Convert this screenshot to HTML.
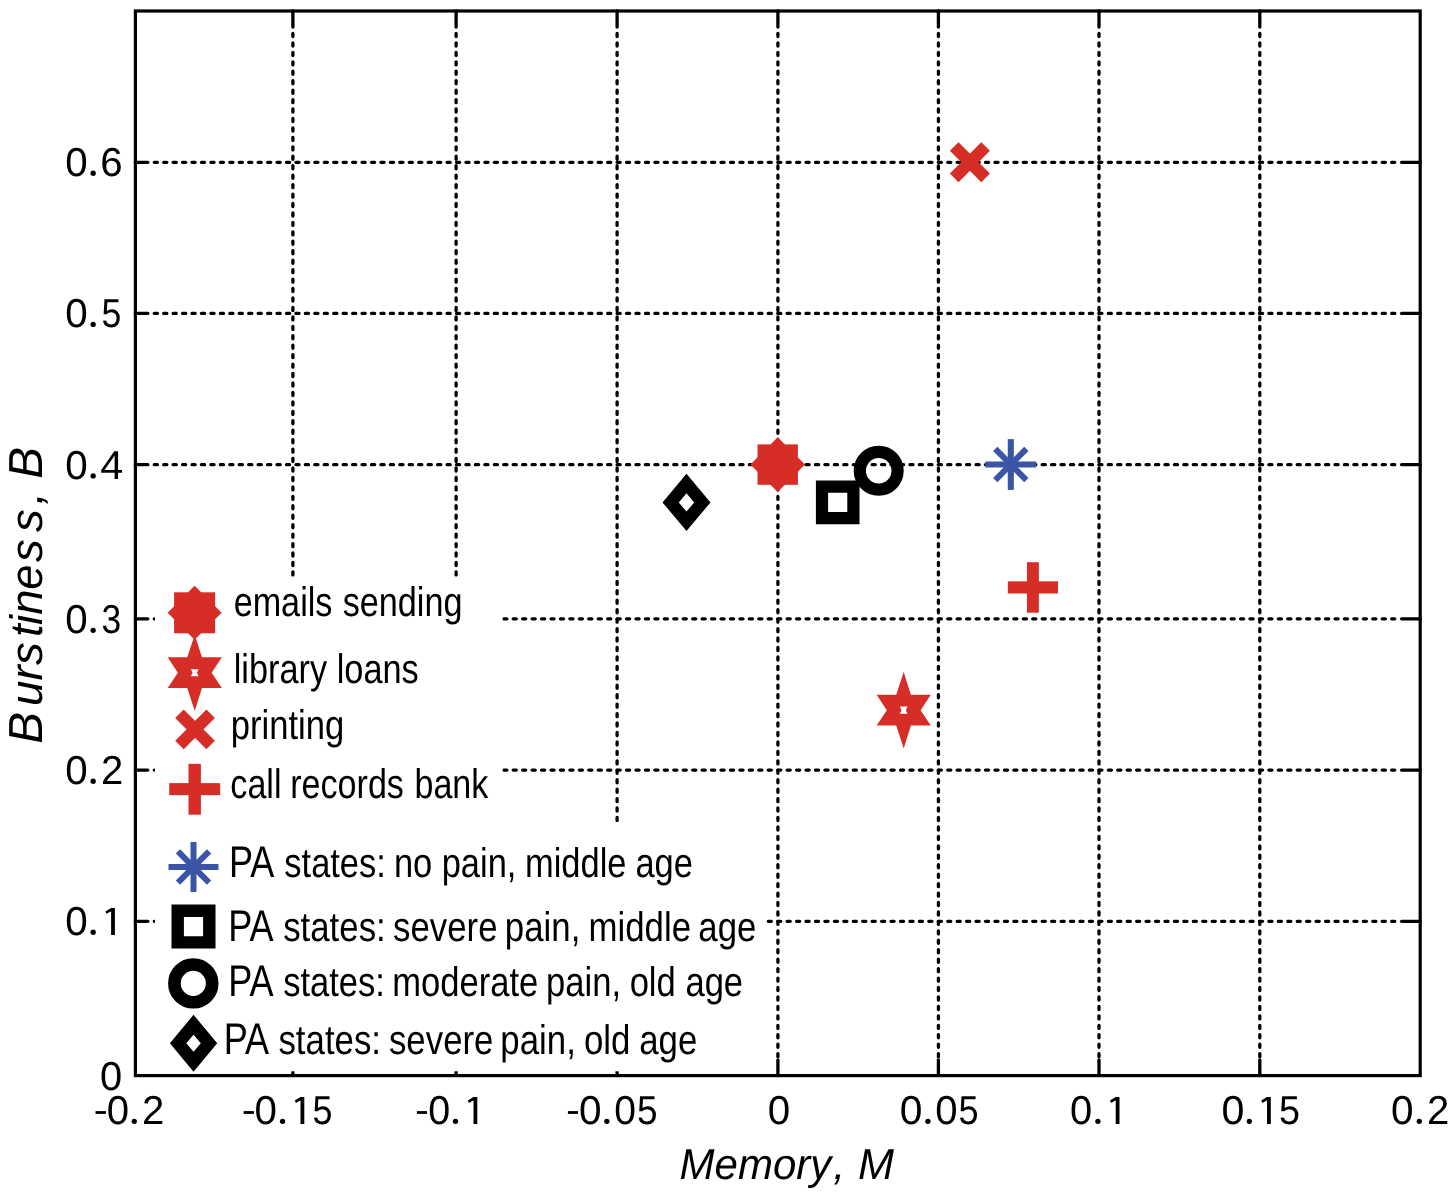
<!DOCTYPE html>
<html><head><meta charset="utf-8"><title>Burstiness vs Memory</title>
<style>html,body{margin:0;padding:0;background:#fff;overflow:hidden}svg{display:block;will-change:transform}text{font-family:"Liberation Sans",sans-serif;text-rendering:geometricPrecision}</style></head><body>
<svg width="1456" height="1197" viewBox="0 0 1456 1197">
<rect x="0" y="0" width="1456" height="1197" fill="#fff"/>
<g stroke="#000" stroke-width="3.3" stroke-linecap="round" fill="none" stroke-dasharray="3.1 6.346">
<line x1="292.9" y1="33.45" x2="292.9" y2="1057.2"/>
<line x1="456.1" y1="33.45" x2="456.1" y2="1057.2"/>
<line x1="617.1" y1="33.45" x2="617.1" y2="1057.2"/>
<line x1="777.9" y1="33.45" x2="777.9" y2="1057.2"/>
<line x1="938.4" y1="33.45" x2="938.4" y2="1057.2"/>
<line x1="1099.0" y1="33.45" x2="1099.0" y2="1057.2"/>
<line x1="1259.8" y1="33.45" x2="1259.8" y2="1057.2"/>
<line x1="154.25" y1="162.3" x2="1397.5" y2="162.3"/>
<line x1="154.25" y1="313.4" x2="1397.5" y2="313.4"/>
<line x1="154.25" y1="464.65" x2="1397.5" y2="464.65"/>
<line x1="154.25" y1="618.8" x2="1397.5" y2="618.8"/>
<line x1="154.25" y1="770.1" x2="1397.5" y2="770.1"/>
<line x1="154.25" y1="921.3" x2="1397.5" y2="921.3"/>
</g>
<g stroke="#000" stroke-width="3.3" stroke-linecap="round">
<line x1="292.9" y1="11.0" x2="292.9" y2="27.0"/>
<line x1="292.9" y1="1060.0" x2="292.9" y2="1075.6"/>
<line x1="456.1" y1="11.0" x2="456.1" y2="27.0"/>
<line x1="456.1" y1="1060.0" x2="456.1" y2="1075.6"/>
<line x1="617.1" y1="11.0" x2="617.1" y2="27.0"/>
<line x1="617.1" y1="1060.0" x2="617.1" y2="1075.6"/>
<line x1="777.9" y1="11.0" x2="777.9" y2="27.0"/>
<line x1="777.9" y1="1060.0" x2="777.9" y2="1075.6"/>
<line x1="938.4" y1="11.0" x2="938.4" y2="27.0"/>
<line x1="938.4" y1="1060.0" x2="938.4" y2="1075.6"/>
<line x1="1099.0" y1="11.0" x2="1099.0" y2="27.0"/>
<line x1="1099.0" y1="1060.0" x2="1099.0" y2="1075.6"/>
<line x1="1259.8" y1="11.0" x2="1259.8" y2="27.0"/>
<line x1="1259.8" y1="1060.0" x2="1259.8" y2="1075.6"/>
<line x1="135.4" y1="162.3" x2="147.8" y2="162.3"/>
<line x1="1401.6" y1="162.3" x2="1420.2" y2="162.3"/>
<line x1="135.4" y1="313.4" x2="147.8" y2="313.4"/>
<line x1="1401.6" y1="313.4" x2="1420.2" y2="313.4"/>
<line x1="135.4" y1="464.65" x2="147.8" y2="464.65"/>
<line x1="1401.6" y1="464.65" x2="1420.2" y2="464.65"/>
<line x1="135.4" y1="618.8" x2="147.8" y2="618.8"/>
<line x1="1401.6" y1="618.8" x2="1420.2" y2="618.8"/>
<line x1="135.4" y1="770.1" x2="147.8" y2="770.1"/>
<line x1="1401.6" y1="770.1" x2="1420.2" y2="770.1"/>
<line x1="135.4" y1="921.3" x2="147.8" y2="921.3"/>
<line x1="1401.6" y1="921.3" x2="1420.2" y2="921.3"/>
</g>
<rect x="155" y="577" width="347.5" height="246" fill="#fff"/>
<rect x="155" y="822" width="611.5" height="249.3" fill="#fff"/>
<rect x="135.4" y="11.0" width="1284.8" height="1064.6" fill="none" stroke="#000" stroke-width="3.2"/>
<rect x="757.50" y="444.40" width="40.40" height="40.40" fill="#D62E26"/><polygon points="777.70,437.30 805.00,464.60 777.70,491.90 750.40,464.60" fill="#D62E26"/>
<path fill="#000" fill-rule="evenodd" d="M686.50,473.75L710.50,502.40L686.50,531.05L662.50,502.40ZM686.50,493.30L694.20,502.40L686.50,511.50L678.80,502.40Z"/>
<path fill="#000" fill-rule="evenodd" d="M815.90,480.60H859.50V524.20H815.90ZM828.10,492.80H847.30V512.00H828.10Z"/>
<circle cx="878.70" cy="470.80" r="18.90" fill="none" stroke="#000" stroke-width="12.20"/>
<g stroke="#3A55A5" stroke-width="6.1" stroke-linecap="butt"><line x1="1010.80" y1="439.10" x2="1010.80" y2="489.90"/><line x1="985.40" y1="464.50" x2="1036.20" y2="464.50"/><line x1="995.24" y1="448.94" x2="1026.36" y2="480.06"/><line x1="995.24" y1="480.06" x2="1026.36" y2="448.94"/></g>
<g stroke="#D62E26" stroke-width="12.2" stroke-linecap="butt"><line x1="954.20" y1="146.50" x2="985.60" y2="177.90"/><line x1="954.20" y1="177.90" x2="985.60" y2="146.50"/></g>
<rect x="1026.95" y="562.20" width="11.91" height="50.50" fill="#D62E26"/><rect x="1007.80" y="581.30" width="50.20" height="12.20" fill="#D62E26"/>
<polygon points="903.70,672.10 910.90,694.70 930.80,694.70 920.60,710.20 930.80,725.50 910.90,725.50 903.70,748.50 896.20,725.50 876.65,725.50 886.80,710.20 876.65,694.70 896.20,694.70" fill="#D62E26"/><polygon points="899.90,706.60 907.50,706.60 905.90,710.20 907.50,713.80 899.90,713.80 901.50,710.20" fill="#fff"/>
<rect x="174.10" y="592.30" width="41.00" height="41.00" fill="#D62E26"/><polygon points="194.60,585.80 221.60,612.80 194.60,639.80 167.60,612.80" fill="#D62E26"/>
<polygon points="194.75,634.65 201.95,657.25 221.85,657.25 211.65,672.75 221.85,688.05 201.95,688.05 194.75,711.05 187.25,688.05 167.70,688.05 177.85,672.75 167.70,657.25 187.25,657.25" fill="#D62E26"/><polygon points="190.95,669.15 198.55,669.15 196.95,672.75 198.55,676.35 190.95,676.35 192.55,672.75" fill="#fff"/>
<g stroke="#D62E26" stroke-width="12.0" stroke-linecap="butt"><line x1="179.45" y1="713.80" x2="210.65" y2="745.00"/><line x1="179.45" y1="745.00" x2="210.65" y2="713.80"/></g>
<rect x="188.50" y="763.85" width="12.40" height="50.85" fill="#D62E26"/><rect x="169.20" y="783.10" width="51.00" height="12.00" fill="#D62E26"/>
<g stroke="#3A55A5" stroke-width="6.0" stroke-linecap="butt"><line x1="193.50" y1="841.95" x2="193.50" y2="891.95"/><line x1="168.50" y1="866.95" x2="218.50" y2="866.95"/><line x1="177.94" y1="851.39" x2="209.06" y2="882.51"/><line x1="177.94" y1="882.51" x2="209.06" y2="851.39"/></g>
<path fill="#000" fill-rule="evenodd" d="M171.50,904.55H215.50V948.55H171.50ZM183.90,916.95H203.10V936.15H183.90Z"/>
<circle cx="193.30" cy="983.40" r="18.88" fill="none" stroke="#000" stroke-width="12.65"/>
<path fill="#000" fill-rule="evenodd" d="M193.55,1014.80L217.20,1043.25L193.55,1071.70L169.90,1043.25ZM193.55,1034.65L200.85,1043.25L193.55,1051.85L186.25,1043.25Z"/>
<text transform="translate(233.64,616.1) scale(0.8277,1)" x="0" y="0" font-size="41.3">emails</text>
<text transform="translate(342.67,616.1) scale(0.8277,1)" x="0" y="0" font-size="41.3">sending</text>
<text transform="translate(233.71,683.0) scale(0.8309,1)" x="0" y="0" font-size="41.3">library</text>
<text transform="translate(336.71,683.0) scale(0.8309,1)" x="0" y="0" font-size="41.3">loans</text>
<text transform="translate(230.79,739.3) scale(0.8377,1)" x="0" y="0" font-size="41.3">printing</text>
<text transform="translate(230.35,797.7) scale(0.8256,1)" x="0" y="0" font-size="41.3">call</text>
<text transform="translate(290.22,797.7) scale(0.8256,1)" x="0" y="0" font-size="41.3">records</text>
<text transform="translate(414.42,797.7) scale(0.8256,1)" x="0" y="0" font-size="41.3">bank</text>
<text transform="translate(228.98,876.5) scale(0.8730,1.077)" x="0" y="0" font-size="41.3">PA</text>
<text transform="translate(284.37,876.5) scale(0.8338,1)" x="0" y="0" font-size="41.3">states:</text>
<text transform="translate(393.90,876.5) scale(0.8338,1)" x="0" y="0" font-size="41.3">no</text>
<text transform="translate(441.70,876.5) scale(0.8338,1)" x="0" y="0" font-size="41.3">pain,</text>
<text transform="translate(525.00,876.5) scale(0.8338,1)" x="0" y="0" font-size="41.3">middle</text>
<text transform="translate(635.43,876.5) scale(0.8338,1)" x="0" y="0" font-size="41.3">age</text>
<text transform="translate(228.18,940.6) scale(0.8730,1.077)" x="0" y="0" font-size="41.3">PA</text>
<text transform="translate(283.16,940.6) scale(0.8431,1)" x="0" y="0" font-size="41.3">states:</text>
<text transform="translate(393.06,940.6) scale(0.8431,1)" x="0" y="0" font-size="41.3">severe</text>
<text transform="translate(504.87,940.6) scale(0.8431,1)" x="0" y="0" font-size="41.3">pain,</text>
<text transform="translate(588.47,940.6) scale(0.8431,1)" x="0" y="0" font-size="41.3">middle</text>
<text transform="translate(698.31,940.6) scale(0.8431,1)" x="0" y="0" font-size="41.3">age</text>
<text transform="translate(228.18,995.9) scale(0.8730,1.077)" x="0" y="0" font-size="41.3">PA</text>
<text transform="translate(283.16,995.9) scale(0.8369,1)" x="0" y="0" font-size="41.3">states:</text>
<text transform="translate(392.29,995.9) scale(0.8369,1)" x="0" y="0" font-size="41.3">moderate</text>
<text transform="translate(546.09,995.9) scale(0.8369,1)" x="0" y="0" font-size="41.3">pain,</text>
<text transform="translate(629.63,995.9) scale(0.8369,1)" x="0" y="0" font-size="41.3">old</text>
<text transform="translate(685.43,995.9) scale(0.8369,1)" x="0" y="0" font-size="41.3">age</text>
<text transform="translate(223.68,1053.9) scale(0.8730,1.077)" x="0" y="0" font-size="41.3">PA</text>
<text transform="translate(278.46,1053.9) scale(0.8431,1)" x="0" y="0" font-size="41.3">states:</text>
<text transform="translate(388.96,1053.9) scale(0.8431,1)" x="0" y="0" font-size="41.3">severe</text>
<text transform="translate(500.37,1053.9) scale(0.8431,1)" x="0" y="0" font-size="41.3">pain,</text>
<text transform="translate(583.91,1053.9) scale(0.8431,1)" x="0" y="0" font-size="41.3">old</text>
<text transform="translate(639.21,1053.9) scale(0.8431,1)" x="0" y="0" font-size="41.3">age</text>
<g font-size="40.3" fill="#000">
<text transform="translate(65.20,175.90) scale(1.0000,1)" x="0" y="0">0</text>
<circle cx="93.15" cy="173.25" r="2.65"/>
<text transform="translate(100.30,175.90) scale(1.0000,1)" x="0" y="0">6</text>
<text transform="translate(65.20,327.10) scale(1.0000,1)" x="0" y="0">0</text>
<circle cx="93.15" cy="324.45" r="2.65"/>
<text transform="translate(101.53,327.10) scale(0.8842,1)" x="0" y="0">5</text>
<text transform="translate(65.20,478.60) scale(1.0000,1)" x="0" y="0">0</text>
<circle cx="93.15" cy="475.95" r="2.65"/>
<text transform="translate(100.32,478.60) scale(1.0275,1)" x="0" y="0">4</text>
<text transform="translate(65.20,633.00) scale(1.0000,1)" x="0" y="0">0</text>
<circle cx="93.15" cy="630.35" r="2.65"/>
<text transform="translate(101.44,633.00) scale(0.8789,1)" x="0" y="0">3</text>
<text transform="translate(65.20,783.90) scale(1.0000,1)" x="0" y="0">0</text>
<circle cx="93.15" cy="781.25" r="2.65"/>
<text transform="translate(101.01,783.90) scale(0.9944,1)" x="0" y="0">2</text>
<text transform="translate(65.20,934.90) scale(1.0000,1)" x="0" y="0">0</text>
<circle cx="93.15" cy="932.25" r="2.65"/>
<path d="M111.10,908.00H114.90V934.90H111.10ZM111.10,908.00L105.40,911.50L106.50,913.80L111.10,911.20Z"/>
<text transform="translate(100.02,1089.60) scale(0.9895,1)" x="0" y="0">0</text>
<rect x="95.50" y="1111.10" width="10.40" height="2.8"/>
<text transform="translate(106.71,1124.00) scale(0.9947,1)" x="0" y="0">0</text>
<circle cx="134.25" cy="1121.35" r="2.65"/>
<text transform="translate(142.11,1124.00) scale(0.9944,1)" x="0" y="0">2</text>
<rect x="243.60" y="1111.10" width="10.40" height="2.8"/>
<text transform="translate(254.60,1124.00) scale(1.0000,1)" x="0" y="0">0</text>
<circle cx="282.55" cy="1121.35" r="2.65"/>
<path d="M300.50,1097.10H304.30V1124.00H300.50ZM300.50,1097.10L294.80,1100.60L295.90,1102.90L300.50,1100.30Z"/>
<text transform="translate(312.62,1124.00) scale(0.8895,1)" x="0" y="0">5</text>
<rect x="416.90" y="1111.10" width="10.10" height="2.8"/>
<text transform="translate(428.14,1124.00) scale(0.9789,1)" x="0" y="0">0</text>
<circle cx="455.50" cy="1121.35" r="2.65"/>
<path d="M473.50,1097.10H477.30V1124.00H473.50ZM473.50,1097.10L467.80,1100.60L468.90,1102.90L473.50,1100.30Z"/>
<rect x="567.90" y="1111.10" width="10.10" height="2.8"/>
<text transform="translate(578.89,1124.00) scale(1.0053,1)" x="0" y="0">0</text>
<circle cx="606.85" cy="1121.35" r="2.65"/>
<text transform="translate(614.26,1124.00) scale(0.9684,1)" x="0" y="0">0</text>
<text transform="translate(637.07,1124.00) scale(0.9158,1)" x="0" y="0">5</text>
<text transform="translate(767.80,1124.00) scale(1.0000,1)" x="0" y="0">0</text>
<text transform="translate(899.78,1124.00) scale(1.0105,1)" x="0" y="0">0</text>
<circle cx="927.90" cy="1121.35" r="2.65"/>
<text transform="translate(935.31,1124.00) scale(0.9947,1)" x="0" y="0">0</text>
<text transform="translate(958.41,1124.00) scale(0.8947,1)" x="0" y="0">5</text>
<text transform="translate(1070.12,1124.00) scale(0.9895,1)" x="0" y="0">0</text>
<circle cx="1097.90" cy="1121.35" r="2.65"/>
<path d="M1115.70,1097.10H1119.50V1124.00H1115.70ZM1115.70,1097.10L1110.00,1100.60L1111.10,1102.90L1115.70,1100.30Z"/>
<text transform="translate(1221.46,1124.00) scale(1.0211,1)" x="0" y="0">0</text>
<circle cx="1249.30" cy="1121.35" r="2.65"/>
<path d="M1267.00,1097.10H1270.80V1124.00H1267.00ZM1267.00,1097.10L1261.30,1100.60L1262.40,1102.90L1267.00,1100.30Z"/>
<text transform="translate(1279.03,1124.00) scale(0.9368,1)" x="0" y="0">5</text>
<text transform="translate(1390.99,1124.00) scale(1.0053,1)" x="0" y="0">0</text>
<circle cx="1419.30" cy="1121.35" r="2.65"/>
<text transform="translate(1427.11,1124.00) scale(0.9944,1)" x="0" y="0">2</text>
</g>
<g font-size="43.2" font-style="italic">
<text transform="translate(679.53,1179.0) scale(0.973,1)" x="0" y="0">Memory</text>
<text x="833.2" y="1179.0">,</text>
<text x="858.1" y="1179.0">M</text>
</g>
<g transform="translate(42.3,0) rotate(-90)" font-size="45.5" font-style="italic">
<text x="-743.75" y="0" font-size="47.77">B</text>
<text x="-705.90" y="0">u</text>
<text x="-680.60" y="0">r</text>
<text x="-665.00" y="0">s</text>
<text x="-637.00" y="0">t</text>
<text x="-624.90" y="0">i</text>
<text x="-614.80" y="0">n</text>
<text x="-589.80" y="0">e</text>
<text x="-561.90" y="0">s</text>
<text x="-532.10" y="0">s</text>
<text x="-504.70" y="0">,</text>
<text x="-478.65" y="0" font-size="47.77">B</text>
</g>
</svg></body></html>
